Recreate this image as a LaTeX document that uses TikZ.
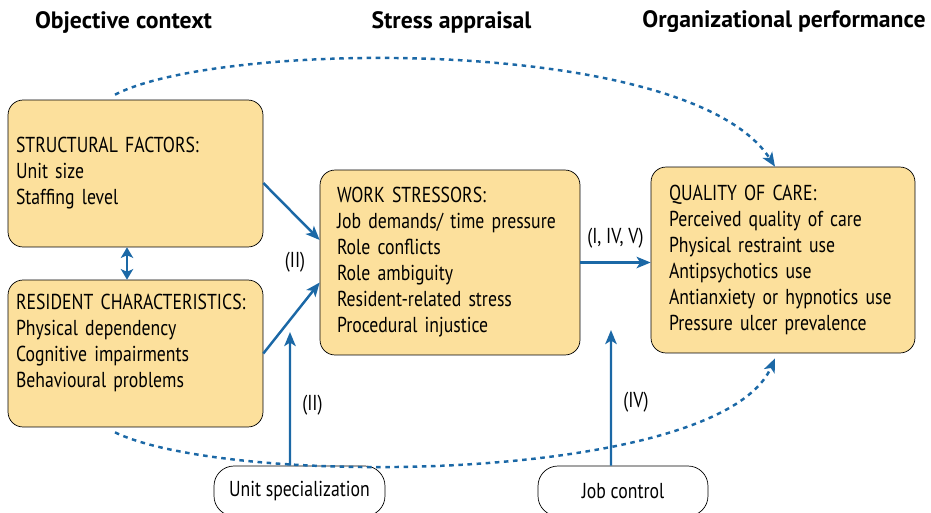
\documentclass[tikz,border=0pt]{standalone}
\usepackage{fontspec}
\setmainfont{PT Sans}
\newfontfamily\boxfont{PT Sans}[FakeStretch=0.82]
\usetikzlibrary{arrows.meta}
\definecolor{boxfill}{HTML}{FCE09C}
\definecolor{linkblue}{HTML}{1B68A6}

\begin{document}
\begin{tikzpicture}[x=0.02cm,y=-0.02cm,
    font=\boxfont\fontsize{12.3}{14.8}\selectfont,
    factor/.style={draw=black, fill=boxfill, rounded corners=0.3cm, align=left, inner xsep=0.16cm},
    pill/.style={draw=black, fill=white, rounded corners=0.4cm, minimum height=1.0cm},
    heading/.style={font=\rmfamily\fontsize{13.5}{15}\selectfont\bfseries},
    tag/.style={text=black},
    link/.style={linkblue, line width=1.4pt, -{Stealth[length=8pt,width=6.5pt,inset=2pt]}},
    dashlink/.style={link, dash pattern=on 2.6pt off 2.6pt}]
    \useasboundingbox (0,0) rectangle (931,512);
    % headings
    \node[heading] (hobj) at (123.5,22) {Objective context};
    \node[heading] (hstr) at (451.5,22) {Stress appraisal};
    \node[heading] (hperf) at (784,22) {Organizational performance};
    % boxes
    \node[factor, minimum width=5.1cm, minimum height=2.94cm, text width=4.78cm] (sf) at (135.5,173.5)
        {STRUCTURAL FACTORS:\\Unit size\\Staffing level};
    \node[factor, minimum width=5.1cm, minimum height=2.94cm, text width=4.78cm] (rc) at (135.5,353.5)
        {RESIDENT CHARACTERISTICS:\\Physical dependency\\Cognitive impairments\\Behavioural problems\\\mbox{}};
    \node[factor, minimum width=5.2cm, minimum height=3.7cm, inner xsep=0.34cm, text width=4.52cm] (ws) at (450,262.5)
        {WORK STRESSORS:\\Job demands/ time pressure\\Role conflicts\\Role ambiguity\\Resident-related stress\\Procedural injustice};
    \node[factor, minimum width=5.28cm, minimum height=3.72cm, inner xsep=0.36cm, text width=4.56cm] (qc) at (783,260)
        {QUALITY OF CARE:\\Perceived quality of care\\Physical restraint use\\Antipsychotics use\\Antianxiety or hypnotics use\\Pressure ulcer prevalence};
    \node[pill, minimum width=3.42cm] (us) at (299.5,491) {Unit specialization};
    \node[pill, minimum width=3.4cm] (jc) at (623,491) {Job control};
    % free ends of the moderating arrows
    \coordinate (usend) at (290,332);
    \coordinate (jcend) at (611,330);
    % arrows
    \draw[link, {Stealth[length=6pt,width=7pt,inset=1.5pt]}-{Stealth[length=6pt,width=7pt,inset=1.5pt]}]
        ([xshift=-0.17cm]sf.south) -- ([xshift=-0.17cm]rc.north);
    \draw[link] ([yshift=-0.19cm]sf.east) -- ([yshift=0.45cm]ws.west);
    \draw[link] (rc.east) -- ([yshift=-0.4cm]ws.west);
    \node (lii) at (295,262) {(II)};
    \draw[link] ([xshift=-0.19cm]us.north) -- (usend) node[tag, pos=0.45, right=3pt] {(II)};
    \draw[link] (ws.east) -- (ws.east -| qc.west) node[tag, midway, above=4pt] {(I, IV, V)};
    \draw[link] ([xshift=-0.24cm]jc.north) -- (jcend) node[tag, pos=0.47, right=3pt] {(IV)};
    % dashed paths
    \draw[dashlink] ([xshift=-0.41cm,yshift=0.1cm]sf.north) .. controls (220,40) and (690,35) .. ([xshift=-0.16cm]qc.north);
    \draw[dashlink] ([xshift=-0.41cm,yshift=-0.1cm]rc.south) .. controls (230,488) and (720,484) .. ([xshift=-0.16cm,yshift=-0.1cm]qc.south);
\end{tikzpicture}
\end{document}
